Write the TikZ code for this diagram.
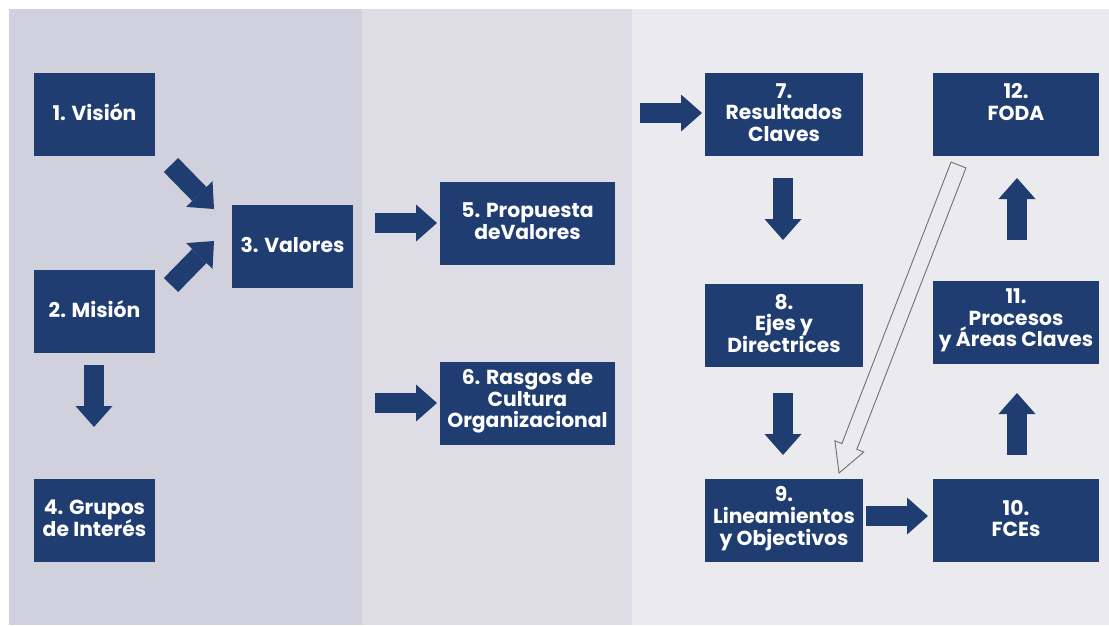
\documentclass[tikz,border=0pt]{standalone}
\usepackage{fontspec}
\setmainfont{Poppins}
\usetikzlibrary{arrows.meta}
\definecolor{navy}{RGB}{32,61,114}
\definecolor{panelA}{RGB}{209,209,221}
\definecolor{panelB}{RGB}{222,221,230}
\definecolor{panelC}{RGB}{235,234,239}
\definecolor{hollowgray}{RGB}{112,112,112}
\newcommand\boxtxt[1]{\raisebox{2pt}[\height][\depth]{\vbox{\baselineskip=21.7pt\lineskiplimit=-30pt\lineskip=0pt\halign{\hfil##\hfil\cr#1\crcr}}}}
\begin{document}
\begin{tikzpicture}[x=1pt,y=-1pt,
  box/.style={fill=navy,text=white,inner sep=0pt,
    font=\fontsize{20.3}{21.7}\selectfont\bfseries},
  boxA/.style={box,minimum width=121pt,minimum height=83pt},
  boxB/.style={box,minimum width=175pt,minimum height=83pt},
  boxC/.style={box,minimum width=158pt,minimum height=83pt},
  boxD/.style={box,minimum width=166pt,minimum height=83pt},
  blockarrow/.style={draw=navy,line width=20pt,line cap=butt,
    -{Triangle[length=21pt,width=37pt,line width=0pt,fill=navy]}},
  hollowarrow/.style={draw=hollowgray,line width=0.9pt,line join=miter,fill=none}]
\useasboundingbox (0,0) rectangle (1109,625);
\fill[white] (0,0) rectangle (1109,625);
% panels
\fill[panelA] (8.5,8.5) rectangle (362,625);
\fill[panelB] (362,8.5) rectangle (632,625);
\fill[panelC] (632,8.5) rectangle (1109,625);
% boxes
\node[boxA] (n1) at (94.5,114.5) {\boxtxt{1. Visión}};
\node[boxA] (n2) at (94.5,311.5) {\boxtxt{2. Misión}};
\node[boxA] (n3) at (292.5,246.5) {\boxtxt{3. Valores}};
\node[boxA] (n4) at (94.5,520.5) {\boxtxt{4. Grupos\cr de Interés}};
\node[boxB] (n5) at (527.5,223.5) {\boxtxt{5. Propuesta\cr deValores}};
\node[boxB] (n6) at (527.5,403.5) {\boxtxt{6. Rasgos de\cr Cultura\cr Organizacional}};
\node[boxC] (n7) at (784,114.5) {\boxtxt{7.\cr Resultados\cr Claves}};
\node[boxC] (n8) at (784,325.5) {\boxtxt{8.\cr Ejes y\cr Directrices}};
\node[boxC] (n9) at (784,520.5) {\boxtxt{9.\cr Lineamientos\cr y Objectivos}};
\node[boxD] (n10) at (1016,520.5) {\boxtxt{10.\cr FCEs}};
\node[boxD] (n11) at (1016,322.5) {\boxtxt{11.\cr Procesos\cr y Áreas Claves}};
\node[boxD] (n12) at (1016,114.5) {\boxtxt{12.\cr FODA\cr \mbox{}}};
% arrow end points
\coordinate (a13s) at (171,165);  \coordinate (a13e) at (214,209);
\coordinate (a23s) at (171,285);  \coordinate (a23e) at (214,241);
\coordinate (a24s) at (94,365);   \coordinate (a24e) at (94,427);
\coordinate (a35s) at (375,223);  \coordinate (a35e) at (437,223);
\coordinate (a6s) at (375,403);   \coordinate (a6e) at (437,403);
\coordinate (a7s) at (640,113);   \coordinate (a7e) at (702,113);
\coordinate (a78s) at (783,178);  \coordinate (a78e) at (783,240);
\coordinate (a89s) at (783,393);  \coordinate (a89e) at (783,455);
\coordinate (a910s) at (866,516); \coordinate (a910e) at (928,516);
\coordinate (a1011s) at (1017,455); \coordinate (a1011e) at (1017,393);
\coordinate (a1112s) at (1017,240); \coordinate (a1112e) at (1017,178);
\foreach \s/\e in {a13s/a13e,a23s/a23e,a24s/a24e,a35s/a35e,a6s/a6e,a7s/a7e,
  a78s/a78e,a89s/a89e,a910s/a910e,a1011s/a1011e,a1112s/a1112e}
  \draw[blockarrow] (\s) -- (\e);
% hollow arrow from FODA to Lineamientos
\coordinate (h0) at (958.5,165);
\begin{scope}[shift={(h0)},rotate=-111.2]
\draw[hollowarrow] (0,8) -- (301.9,8) -- (301.9,15.5) -- (330.4,0)
  -- (301.9,-15.5) -- (301.9,-8) -- (0,-8) -- cycle;
\end{scope}
\end{tikzpicture}
\end{document}
